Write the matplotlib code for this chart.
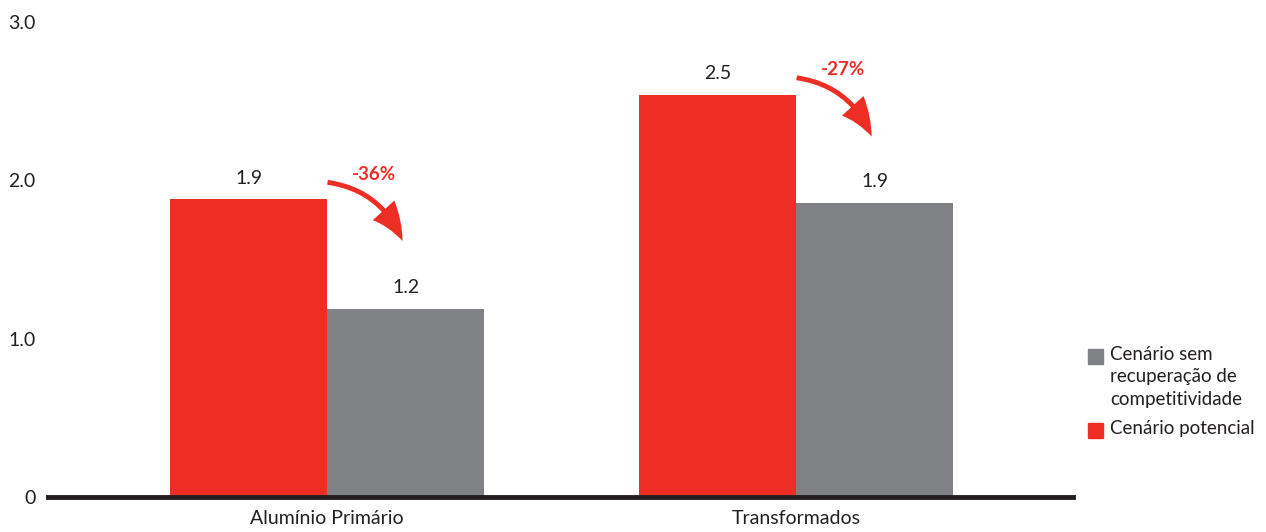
import matplotlib.pyplot as plt
import numpy as np
from matplotlib.patches import FancyArrowPatch, Rectangle

categories = ['Alumínio Primário', 'Transformados']
potencial = [1.88, 2.54]
sem_recuperacao = [1.19, 1.86]
variacao = ['-36%', '-27%']
legend_labels = ['Cenário sem\nrecuperação de\ncompetitividade', 'Cenário potencial']

red = '#ee2e24'
gray = '#808184'
dark = '#231f20'

plt.rcParams['font.family'] = ['Lato', 'DejaVu Sans']

fig = plt.figure(figsize=(12.66, 5.32), dpi=100)
ax = fig.add_axes([48/1266, 1 - 497/532, 1025/1266, 475/532])

x = np.arange(len(categories))
w = 0.335
b1 = ax.bar(x - w/2, potencial, w, color=red)
b2 = ax.bar(x + w/2, sem_recuperacao, w, color=gray)

for bars in (b1, b2):
    for r in bars:
        v = r.get_height()
        ax.annotate(f'{v:.1f}', (r.get_x() + r.get_width()/2, v),
                    xytext=(0, 9), textcoords='offset points',
                    ha='center', va='bottom', fontsize=14, color=dark)

# curved arrows showing the drop between scenarios
for i in range(len(categories)):
    start = (x[i] - 0.005, potencial[i] + 0.11)
    end = (x[i] + 0.163, potencial[i] - 0.28)
    arr = FancyArrowPatch(start, end, connectionstyle='arc3,rad=-0.3',
                          arrowstyle='simple,head_width=21,head_length=26,tail_width=3.5',
                          color=red, lw=0)
    ax.add_patch(arr)
    ax.text(x[i] + 0.10, potencial[i] + 0.16, variacao[i], color=red,
            fontsize=13.5, fontweight='bold', ha='center', va='center')

ax.set_xlim(-0.595, 1.59)
ax.set_ylim(0, 3.0)
ax.set_yticks([0, 1, 2, 3])
ax.set_yticklabels(['0', '1.0', '2.0', '3.0'])
ax.set_xticks(x)
ax.set_xticklabels(categories)
ax.tick_params(axis='both', length=0, labelsize=14, colors=dark)
ax.tick_params(axis='y', pad=9)
ax.tick_params(axis='x', pad=9)
for s in ['top', 'right', 'left']:
    ax.spines[s].set_visible(False)
ax.spines['bottom'].set_linewidth(3.5)
ax.spines['bottom'].set_color(dark)

# legend: square swatch aligned with the first line of each label
W, H = 1266, 532
for color, label, ytop in [(gray, legend_labels[0], 349), (red, legend_labels[1], 423)]:
    fig.patches.append(Rectangle((1088/W, 1 - (ytop + 15)/H), 15/W, 15/H,
                                 transform=fig.transFigure, color=color))
    fig.text(1110/W, 1 - (ytop - 3)/H, label, fontsize=13.5, color=dark,
             ha='left', va='top', linespacing=1.38)

fig.savefig('out.png', dpi=100)
